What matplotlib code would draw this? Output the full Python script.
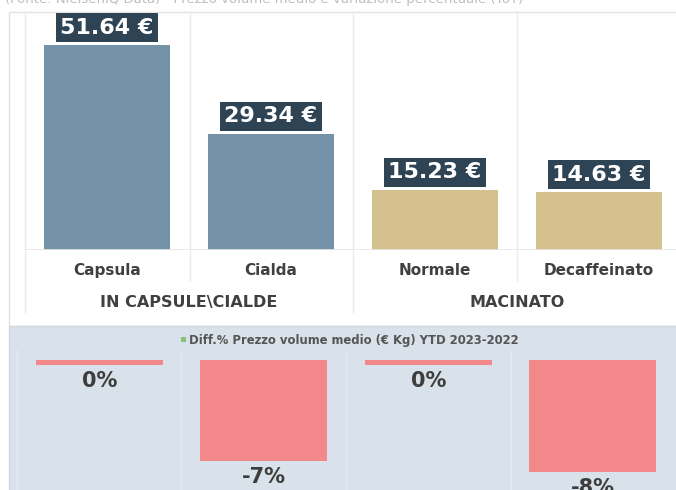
import matplotlib.pyplot as plt
from matplotlib.patches import Rectangle

# prezzo volume medio (€/Kg)
categorie = ['Capsula', 'Cialda', 'Normale', 'Decaffeinato']
gruppi = ['IN CAPSULE\\CIALDE', 'MACINATO']
prezzi = [51.64, 29.34, 15.23, 14.63]
# variazione % YTD 2023-2022
diff_pct = [-0.35, -7.2, -0.35, -8.0]
diff_lbl = ['0%', '-7%', '0%', '-8%']

col_bar = ['#7593a8', '#7593a8', '#d5c18d', '#d5c18d']
col_box = '#2e4455'
col_neg = '#f2888a'
col_txt = '#3d3d3d'

W, H = 676, 490
fig = plt.figure(figsize=(W / 100, H / 100), dpi=100)

# sfondo in coordinate pixel
bg = fig.add_axes([0, 0, 1, 1], zorder=0)
bg.set_xlim(0, W)
bg.set_ylim(H, 0)
bg.axis('off')
bg.add_patch(Rectangle((9, 12), W, 314, facecolor='white', edgecolor='#e2e2e2', lw=1))
bg.add_patch(Rectangle((9, 326), W, 170, facecolor='#d9e2ea', edgecolor='#cfd8df', lw=1))
line_c = '#ebebeb'
for x, y1 in [(25, 312), (190, 281), (353, 312), (517, 281)]:
    bg.plot([x, x], [12, y1], color=line_c, lw=1)
for x in [17, 181, 346, 511]:
    bg.plot([x, x], [350, H], color='#e4eaf0', lw=1)
# titolo tagliato in alto
bg.text(5, -1, '(Fonte: NielsenIQ Data) - Prezzo volume medio e variazione percentuale (YoY)',
        fontsize=9.5, color='#bdbdbd', va='center', ha='left', clip_on=False)

# pannello superiore
ax = fig.add_axes([25 / W, 1 - 250 / H, 656 / W, 238 / H], zorder=2)
ax.patch.set_alpha(0)
x = range(len(categorie))
ax.bar(x, prezzi, width=0.77, color=col_bar)
ax.set_xlim(-0.5, 3.5)
ax.set_ylim(0, 60)
ax.axhline(0, color='#e6e6e6', lw=1.2)
ax.axis('off')
for i, v in enumerate(prezzi):
    ax.annotate(f'{v:.2f} €', (i, v), xytext=(0, 12.5), textcoords='offset points',
                ha='center', va='center', fontsize=16, fontweight='bold', color='white',
                bbox=dict(boxstyle='square,pad=0.2', facecolor=col_box, edgecolor='none'))
    ax.annotate(categorie[i], (i, 0), xytext=(0, -15), textcoords='offset points',
                ha='center', va='center', fontsize=11, fontweight='bold', color='#404040')
for g, nome in enumerate(gruppi):
    ax.annotate(nome, (2 * g + 0.5, 0), xytext=(0, -37.5), textcoords='offset points',
                ha='center', va='center', fontsize=11.5, fontweight='bold', color='#404040')

# pannello inferiore
ax2 = fig.add_axes([17 / W, 0, 658 / W, 143 / H], zorder=2)
ax2.patch.set_alpha(0)
ax2.bar(x, diff_pct, width=0.77, color=col_neg)
ax2.set_xlim(-0.5, 3.5)
ax2.set_ylim(-130 / 14, 13 / 14)
ax2.axis('off')
for i, v in enumerate(diff_pct):
    ax2.annotate(diff_lbl[i], (i, v), xytext=(0, -11.5), textcoords='offset points',
                 ha='center', va='center', fontsize=15, fontweight='bold', color=col_txt,
                 annotation_clip=False)

# legenda
bg.add_patch(Rectangle((181, 337), 5, 5, facecolor='#8dbf7c', edgecolor='none'))
bg.text(189, 340, 'Diff.% Prezzo volume medio (€ Kg) YTD 2023-2022', fontsize=8.4,
        fontweight='bold', color='#555555', va='center', ha='left')

fig.savefig('out.png', dpi=100)
